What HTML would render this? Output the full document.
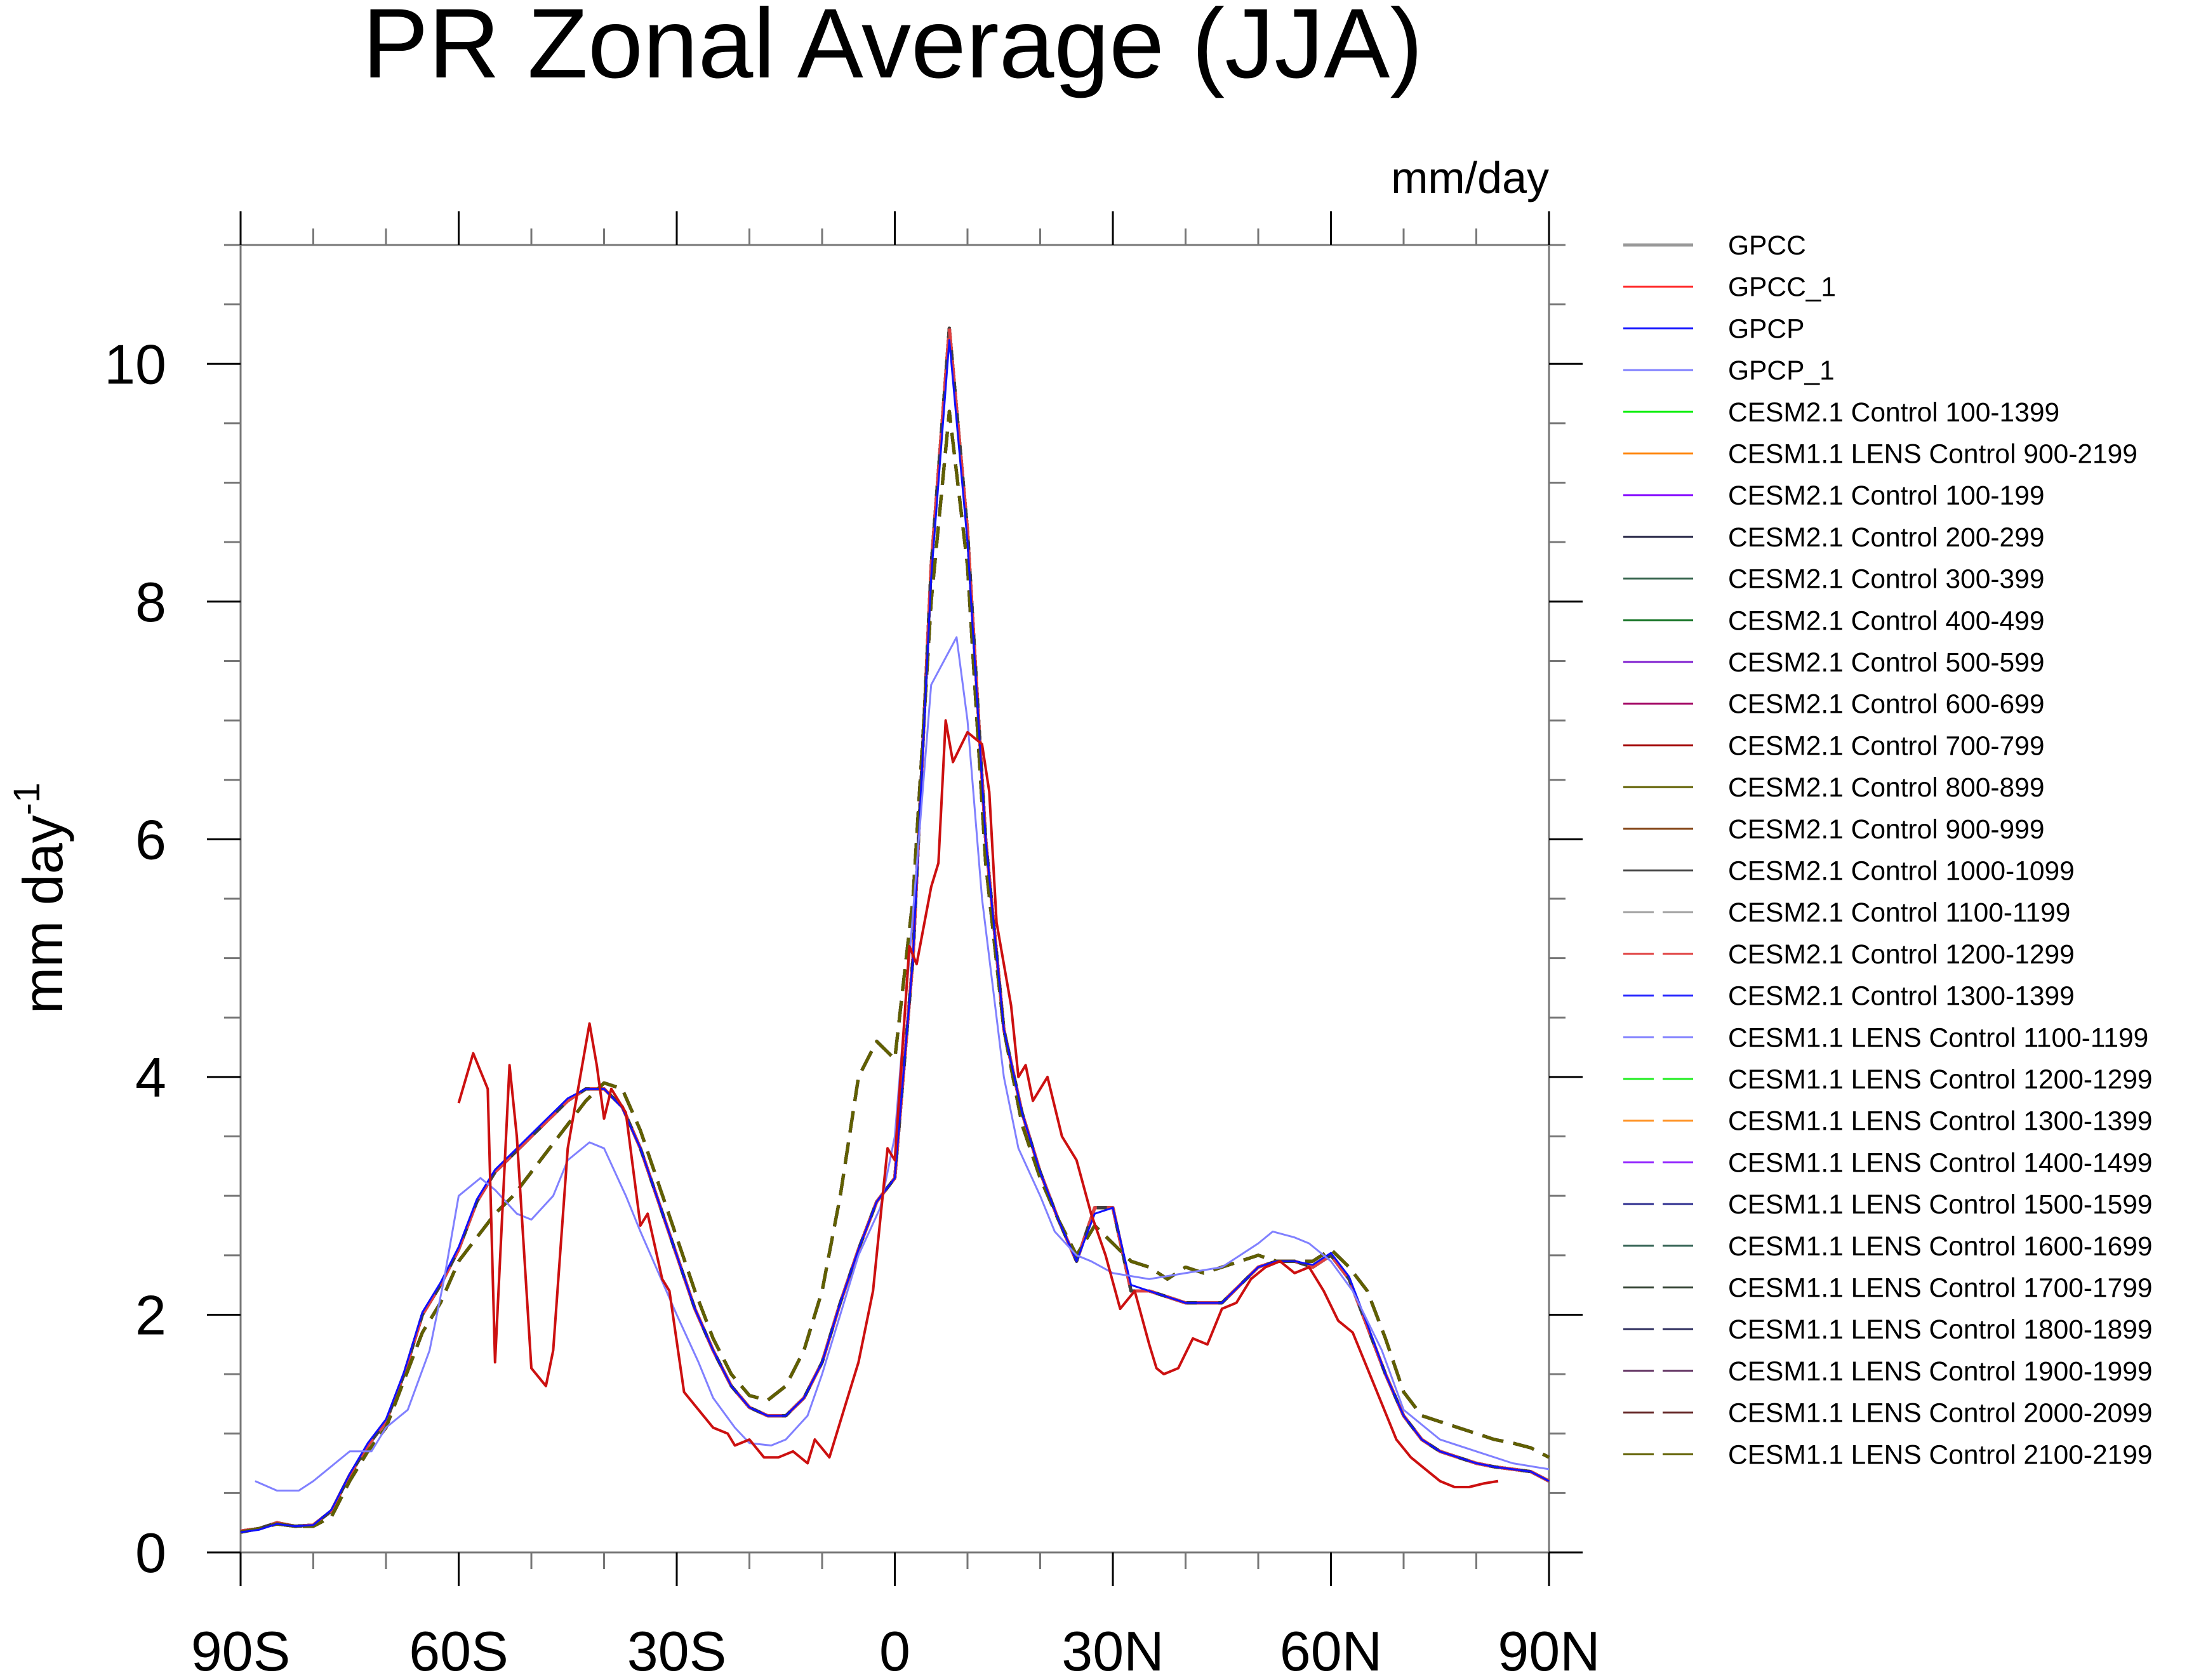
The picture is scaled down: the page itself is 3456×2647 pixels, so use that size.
<!DOCTYPE html>
<html><head><meta charset="utf-8"><title>PR Zonal Average (JJA)</title>
<style>html,body{margin:0;padding:0;background:#fff}svg{display:block}text{font-family:"Liberation Sans",sans-serif}</style>
</head><body>
<svg id="chart" width="3456" height="2647" viewBox="0 0 3456 2647" xmlns="http://www.w3.org/2000/svg">
<text x="1406" y="122" font-size="156" text-anchor="middle">PR Zonal Average (JJA)</text>
<text x="2440" y="304" font-size="70" text-anchor="end">mm/day</text>
<text transform="translate(98,1415) rotate(-90)" font-size="88" text-anchor="middle">mm day<tspan dy="-36" font-size="58">-1</tspan></text>
<g id="axes"></g>
<g id="series"></g>
<g id="legend"></g>
</svg>
<script>
const gridLats = [-90,-87.5,-85,-82.5,-80,-77.5,-75,-72.5,-70,-67.5,-65,-62.5,-60,-57.5,-55,-52.5,-50,-47.5,-45,-42.5,-40,-37.5,-35,-32.5,-30,-27.5,-25,-22.5,-20,-17.5,-15,-12.5,-10,-7.5,-5,-2.5,0,2.5,5,7.5,10,12.5,15,17.5,20,22.5,25,27.5,30,32.5,35,37.5,40,42.5,45,47.5,50,52.5,55,57.5,60,62.5,65,67.5,70,72.5,75,77.5,80,82.5,85,87.5,90];
const cesm2Values = [.18,.2,.25,.22,.23,.35,.65,.9,1.1,1.5,2.0,2.25,2.55,2.95,3.2,3.35,3.5,3.65,3.8,3.9,3.9,3.75,3.4,2.95,2.5,2.05,1.7,1.4,1.22,1.15,1.15,1.3,1.6,2.1,2.55,2.95,3.15,5.0,8.3,10.3,8.6,6.0,4.4,3.7,3.2,2.8,2.45,2.9,2.9,2.2,2.2,2.15,2.1,2.1,2.1,2.25,2.4,2.45,2.45,2.4,2.5,2.3,1.9,1.5,1.15,.95,.85,.8,.75,.72,.7,.68,.6];
const cesm1Values = [.17,.2,.24,.22,.22,.3,.6,.85,1.05,1.45,1.85,2.1,2.45,2.65,2.85,3.0,3.2,3.4,3.6,3.8,3.95,3.9,3.55,3.1,2.65,2.2,1.8,1.5,1.32,1.28,1.4,1.7,2.2,3.0,4.0,4.3,4.15,5.5,8.0,9.6,8.3,5.8,4.4,3.6,3.15,2.8,2.5,2.75,2.6,2.45,2.4,2.3,2.4,2.35,2.4,2.45,2.5,2.45,2.45,2.45,2.55,2.4,2.2,1.8,1.35,1.15,1.1,1.05,1.0,.95,.92,.88,.8];
const gpcpValues = [.17,.19,.24,.22,.23,.36,.66,.92,1.12,1.52,2.02,2.27,2.57,2.97,3.22,3.37,3.52,3.67,3.82,3.9,3.9,3.74,3.4,2.95,2.5,2.05,1.7,1.4,1.22,1.15,1.15,1.3,1.6,2.1,2.55,2.95,3.15,5.0,8.2,10.2,8.5,6.0,4.4,3.7,3.2,2.8,2.45,2.85,2.9,2.25,2.2,2.15,2.1,2.1,2.1,2.25,2.4,2.45,2.45,2.42,2.52,2.32,1.92,1.5,1.15,.95,.85,.8,.75,.72,.7,.68,.6];
const gpcp1Lats = [-88,-85,-82,-80,-77,-75,-72,-70,-67,-64,-62,-60,-57,-55,-52,-50,-47,-45,-42,-40,-37,-35,-30,-27,-25,-22,-20,-17,-15,-12,-10,-7,-5,-2,0,2,5,8.5,10,12,15,17,20,22,25,27,30,35,40,45,50,52,55,57,60,63,67,70,75,80,85,90];
const gpcp1Values = [.6,.52,.52,.6,.75,.85,.85,1.05,1.2,1.7,2.3,3.0,3.15,3.05,2.85,2.8,3.0,3.3,3.45,3.4,3.0,2.7,2.0,1.6,1.3,1.05,.92,.9,.95,1.15,1.5,2.1,2.5,2.9,3.5,5.0,7.3,7.7,7.0,5.5,4.0,3.4,3.0,2.7,2.5,2.45,2.35,2.3,2.35,2.4,2.6,2.7,2.65,2.6,2.45,2.2,1.7,1.2,.95,.85,.75,.7];
const gpcc1Lats = [-60,-58,-56,-55,-53,-52,-50,-48,-47,-45,-42,-41,-40,-39,-37,-35,-34,-32,-31,-29,-27,-25,-23,-22,-20,-18,-16,-14,-12,-11,-9,-7,-5,-3,-1.5,-1,0,1,2,3,5,6,7,8,10,12,13,14,16,17,18,19,21,23,25,27,29,31,33,35,36,37,39,41,43,45,47,49,51,53,55,57,59,61,63,65,67,69,71,73,75,77,79,81,83];
const gpcc1Values = [3.78,4.2,3.9,1.6,4.1,3.5,1.55,1.4,1.7,3.4,4.45,4.1,3.65,3.9,3.7,2.75,2.85,2.3,2.2,1.35,1.2,1.05,1.0,.9,.95,.8,.8,.85,.75,.95,.8,1.2,1.6,2.2,3.1,3.4,3.3,4.2,5.1,4.95,5.6,5.8,7.0,6.65,6.9,6.8,6.4,5.3,4.6,4.0,4.1,3.8,4.0,3.5,3.3,2.85,2.5,2.05,2.2,1.75,1.55,1.5,1.55,1.8,1.75,2.05,2.1,2.3,2.4,2.45,2.35,2.4,2.2,1.95,1.85,1.55,1.25,.95,.8,.7,.6,.55,.55,.58,.6];
const xTickLabels = ["90S","60S","30S","0","30N","60N","90N"];
const yTickLabels = ["0","2","4","6","8","10"];
const legendNames = ["GPCC","GPCC_1","GPCP","GPCP_1","CESM2.1 Control 100-1399","CESM1.1 LENS Control 900-2199","CESM2.1 Control 100-199","CESM2.1 Control 200-299","CESM2.1 Control 300-399","CESM2.1 Control 400-499","CESM2.1 Control 500-599","CESM2.1 Control 600-699","CESM2.1 Control 700-799","CESM2.1 Control 800-899","CESM2.1 Control 900-999","CESM2.1 Control 1000-1099","CESM2.1 Control 1100-1199","CESM2.1 Control 1200-1299","CESM2.1 Control 1300-1399","CESM1.1 LENS Control 1100-1199","CESM1.1 LENS Control 1200-1299","CESM1.1 LENS Control 1300-1399","CESM1.1 LENS Control 1400-1499","CESM1.1 LENS Control 1500-1599","CESM1.1 LENS Control 1600-1699","CESM1.1 LENS Control 1700-1799","CESM1.1 LENS Control 1800-1899","CESM1.1 LENS Control 1900-1999","CESM1.1 LENS Control 2000-2099","CESM1.1 LENS Control 2100-2199"];
const legendColors = ["#999999","#ff2020","#1010ff","#8080ff","#00ee00","#ff8000","#8000ff","#202040","#306048","#107020","#8020d0","#a00060","#a00000","#606000","#804010","#404040","#a0a0a0","#e04040","#2020ff","#8080ff","#20ee20","#ff9020","#9020ff","#303090","#306050","#304030","#303060","#603060","#602020","#606000"];
const legendDashed = [0,0,0,0,0,0,0,0,0,0,0,0,0,0,0,0,1,1,1,1,1,1,1,1,1,1,1,1,1,1];
const modelGroup = [2,1,2,2,2,2,2,2,2,2,2,2,2,2,2,2,2,2,1,1,1,1,1,1,1,1,1,1,1,1];

const NS="http://www.w3.org/2000/svg";
const L=379,R=2440,T=386,B=2446,YMAX=11;
function xS(lat){return L+(lat+90)/180*(R-L);}
function yS(v){return B-v/YMAX*(B-T);}
function mk(tag,attrs,parent){const e=document.createElementNS(NS,tag);for(const k in attrs)e.setAttribute(k,attrs[k]);parent.appendChild(e);return e;}
const axes=document.getElementById('axes');
const fr=mk('rect',{x:L,y:T,width:R-L,height:B-T,fill:'none',stroke:'#777','stroke-width':3},axes);


for(let v=0;v<=YMAX+0.001;v+=0.5){
  const maj=Math.abs(v%2)<0.01, len=maj?53:26, y=yS(v);
  const t1=mk('line',{x1:L-len,y1:y,x2:L,y2:y,stroke:maj?'#000':'#777','stroke-width':3},axes);
  
  
  const t2=mk('line',{x1:R,y1:y,x2:R+len,y2:y,stroke:maj?'#000':'#777','stroke-width':3},axes);
  
  
}
yTickLabels.forEach((s,i)=>{const t=mk('text',{x:262,y:yS(i*2)+31,'font-size':88,'text-anchor':'end'},axes);t.textContent=s;
  
  });
for(let lat=-90;lat<=90;lat+=10){
  const maj=(lat%30===0), len=maj?53:26, x=xS(lat);
  const a=mk('line',{x1:x,y1:B,x2:x,y2:B+len,stroke:maj?'#000':'#777','stroke-width':3},axes);
  
  
  const b=mk('line',{x1:x,y1:T-len,x2:x,y2:T,stroke:maj?'#000':'#777','stroke-width':3},axes);
  
  
}
xTickLabels.forEach((s,i)=>{const t=mk('text',{x:xS(-90+i*30),y:2632,'font-size':88,'text-anchor':'middle'},axes);t.textContent=s;
  
  });

const sg=document.getElementById('series');
function drawLine(lats,vals,color,dashed,w,name){
  const d=lats.map((la,i)=>(i?'L':'M')+xS(la).toFixed(1)+','+yS(vals[i]).toFixed(1)).join('');
  const p=mk('path',{d:d,fill:'none',stroke:color,'stroke-width':w,'stroke-linejoin':'round'},sg);
  if(dashed)p.setAttribute('stroke-dasharray','34 16');
  
  
}
for(let i=4;i<legendNames.length;i++){
  drawLine(gridLats,modelGroup[i]===2?cesm2Values:cesm1Values,legendColors[i],legendDashed[i],5,'series-line');
}
drawLine(gridLats,gpcpValues,legendColors[2],0,3,'gpcp-line');
drawLine(gpcp1Lats,gpcp1Values,legendColors[3],0,3,'gpcp-1-line');
drawLine(gpcc1Lats,gpcc1Values,'#cc1010',0,4,'gpcc-1-line');

const lg=document.getElementById('legend');
legendNames.forEach((n,i)=>{
  const y=386+i*65.7;
  const ln=mk('line',{x1:2557,y1:y,x2:2667,y2:y,stroke:legendColors[i],'stroke-width':i===0?5:3},lg);
  if(legendDashed[i])ln.setAttribute('stroke-dasharray','48 14');
  
  
  const t=mk('text',{x:2722,y:y+15,'font-size':42.5},lg);t.textContent=n;
  
  
});
</script>
</body></html>
